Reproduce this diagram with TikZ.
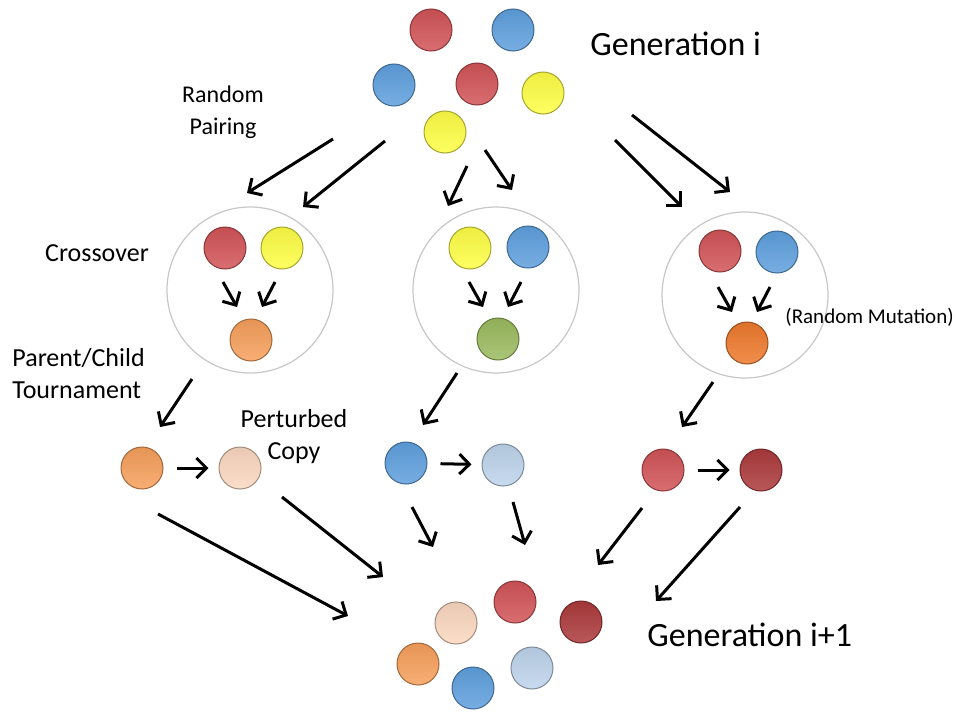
\documentclass[tikz,border=0pt]{standalone}
\usepackage{fontspec}
\setmainfont{Carlito}
\usepackage{tikz}
\usetikzlibrary{arrows.meta}
\usepackage{xcolor}
\definecolor{popred}{RGB}{210,84,88}
\definecolor{popblue}{RGB}{95,160,222}
\definecolor{popyellow}{RGB}{255,255,70}
\definecolor{poporange}{RGB}{247,160,92}
\definecolor{poppeach}{RGB}{251,216,192}
\definecolor{popgreen}{RGB}{155,187,95}
\definecolor{popmut}{RGB}{238,122,45}
\definecolor{poplblue}{RGB}{190,212,236}
\definecolor{popdred}{RGB}{172,58,60}
\tikzset{ball/.style={circle, minimum size=21pt, inner sep=0pt, line width=0.5pt, draw=#1!65!black, top color=#1!93!black, bottom color=#1!85!white}}
\tikzstyle{pool} = [circle, draw=black!22, line width=0.6pt, minimum size=83pt, inner sep=0pt]
\tikzstyle{big} = [font=\fontsize{17}{20}\selectfont]
\tikzstyle{arrow} = [line width=1.5pt, -{Straight Barb[length=5pt,width=10pt]}]

\begin{document}
\begin{tikzpicture}[x=0.5pt, y=-0.5pt, every node/.style={font=\fontsize{13}{16}\selectfont, inner sep=0pt}]
  \useasboundingbox (0,0) rectangle (956,712);

  \node[ball=popred] (gA) at (431,30) {};
  \node[ball=popblue] (gB) at (513,30) {};
  \node[ball=popblue] (gC) at (394,85) {};
  \node[ball=popred] (gD) at (477,84) {};
  \node[ball=popyellow] (gE) at (543,93) {};
  \node[ball=popyellow] (gF) at (445,132) {};
  \node[big, anchor=west] (geni) at (590,44) {Generation i};

  \node[pool] (poolA) at (250,290) {};
  \node[pool] (poolB) at (496,290) {};
  \node[pool] (poolC) at (745,295) {};
  \node[ball=popred] (aP1) at (225,248) {};
  \node[ball=popyellow] (aP2) at (282,248) {};
  \node[ball=poporange] (aC) at (251,340) {};
  \node[ball=popyellow] (bP1) at (470,248) {};
  \node[ball=popblue] (bP2) at (528,247) {};
  \node[ball=popgreen] (bC) at (498,339) {};
  \node[ball=popred] (cP1) at (720,251) {};
  \node[ball=popblue] (cP2) at (777,252) {};
  \node[ball=popmut] (cC) at (747,343) {};

  \node[ball=poporange] (aW) at (142,468) {};
  \node[ball=poppeach] (aX) at (240,468) {};
  \node[ball=popblue] (bW) at (406,463) {};
  \node[ball=poplblue] (bX) at (503,465) {};
  \node[ball=popred] (cW) at (663,470) {};
  \node[ball=popdred] (cX) at (761,470) {};

  \node[ball=poppeach] (nA) at (456,623) {};
  \node[ball=popred] (nB) at (515,602) {};
  \node[ball=popdred] (nC) at (581,622) {};
  \node[ball=poporange] (nD) at (418,664) {};
  \node[ball=popblue] (nE) at (473,688) {};
  \node[ball=poplblue] (nF) at (532,668) {};
  \node[big, anchor=west] (genn) at (647,635) {Generation i+1};

  \node[align=center, font=\fontsize{12}{16}\selectfont] (pairing) at (223,112) {Random\\Pairing};
  \node (crossover) at (97,253) {Crossover};
  \node[align=left, anchor=west] (tournament) at (12,374) {Parent/Child\\Tournament};
  \node[align=center] (perturbed) at (294,437) {Perturbed\\Copy};
  \node[font=\fontsize{10.5}{12}\selectfont, anchor=west] (mutation) at (785,317) {(Random Mutation)};

  \coordinate (r1s) at (333,139); \coordinate (r1e) at (247,193);
  \coordinate (r2s) at (385,141); \coordinate (r2e) at (303,207);
  \coordinate (r3s) at (467,166); \coordinate (r3e) at (448,206);
  \coordinate (r4s) at (485,150); \coordinate (r4e) at (512,190);
  \coordinate (r5s) at (615,140); \coordinate (r5e) at (682,207);
  \coordinate (r6s) at (632,115); \coordinate (r6e) at (730,192);
  \draw[arrow] (r1s) -- (r1e);
  \draw[arrow] (r2s) -- (r2e);
  \draw[arrow] (r3s) -- (r3e);
  \draw[arrow] (r4s) -- (r4e);
  \draw[arrow] (r5s) -- (r5e);
  \draw[arrow] (r6s) -- (r6e);

  \draw[arrow] ([shift={(-27,-8)}]poolA.center) -- ([shift={(-13,17)}]poolA.center);
  \draw[arrow] ([shift={(25,-8)}]poolA.center) -- ([shift={(12,17)}]poolA.center);
  \draw[arrow] ([shift={(-27,-8)}]poolB.center) -- ([shift={(-13,17)}]poolB.center);
  \draw[arrow] ([shift={(25,-8)}]poolB.center) -- ([shift={(12,17)}]poolB.center);
  \draw[arrow] ([shift={(-27,-8)}]poolC.center) -- ([shift={(-13,17)}]poolC.center);
  \draw[arrow] ([shift={(25,-8)}]poolC.center) -- ([shift={(12,17)}]poolC.center);

  \coordinate (p1s) at (192,379); \coordinate (p1e) at (160,427);
  \coordinate (p2s) at (457,373); \coordinate (p2e) at (423,425);
  \coordinate (p3s) at (713,382); \coordinate (p3e) at (682,427);
  \draw[arrow] (p1s) -- (p1e);
  \draw[arrow] (p2s) -- (p2e);
  \draw[arrow] (p3s) -- (p3e);

  \draw[arrow, shorten <=6.5pt, shorten >=5pt] (aW) -- (aX);
  \draw[arrow, shorten <=6.5pt, shorten >=5pt] (bW) -- (bX);
  \draw[arrow, shorten <=6.5pt, shorten >=5pt] (cW) -- (cX);

  \coordinate (m1s) at (158,514); \coordinate (m1e) at (348,616);
  \coordinate (m2s) at (282,497); \coordinate (m2e) at (383,577);
  \coordinate (m3s) at (412,507); \coordinate (m3e) at (433,547);
  \coordinate (m4s) at (513,502); \coordinate (m4e) at (525,545);
  \coordinate (m5s) at (642,508); \coordinate (m5e) at (598,565);
  \coordinate (m6s) at (740,507); \coordinate (m6e) at (656,601);
  \draw[arrow] (m1s) -- (m1e);
  \draw[arrow] (m2s) -- (m2e);
  \draw[arrow] (m3s) -- (m3e);
  \draw[arrow] (m4s) -- (m4e);
  \draw[arrow] (m5s) -- (m5e);
  \draw[arrow] (m6s) -- (m6e);
\end{tikzpicture}
\end{document}
